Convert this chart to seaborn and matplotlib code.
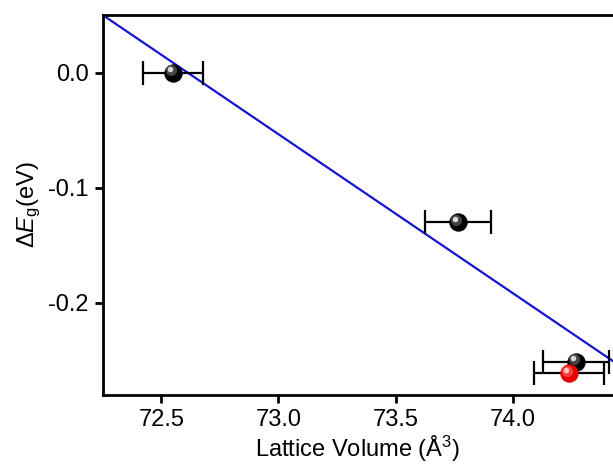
import matplotlib
matplotlib.use("Agg")
import matplotlib.pyplot as plt
import matplotlib.transforms as mtransforms
import seaborn as sns
import pandas as pd
import numpy as np

# data
volume = [72.55, 73.766, 74.27]
delta_eg = [0.0, -0.130, -0.251]
volume_err = [0.13, 0.14, 0.14]

red_volume = [74.24]
red_delta_eg = [-0.261]
red_err = [0.15]

fit_x = [72.25, 74.43]
fit_y = [0.05, -0.251]

xticks = [72.5, 73.0, 73.5, 74.0]
yticks = [0.0, -0.1, -0.2]

sns.set_style("ticks")
plt.rcParams['font.family'] = ['Liberation Sans', 'DejaVu Sans']
plt.rcParams['mathtext.fontset'] = 'custom'
plt.rcParams['mathtext.rm'] = 'Liberation Sans'
plt.rcParams['mathtext.it'] = 'Liberation Sans:italic'
plt.rcParams['axes.unicode_minus'] = False
plt.rcParams['text.color'] = 'black'
plt.rcParams['axes.labelcolor'] = 'black'

fig = plt.figure(figsize=(6.13, 4.66), dpi=100)
ax = fig.add_axes([0.1675, 0.1524, 0.8325, 0.8154])

df_fit = pd.DataFrame({"x": fit_x, "y": fit_y})
sns.lineplot(data=df_fit, x="x", y="y", ax=ax, color="#1414d2", lw=1.6, zorder=2)

# error bars
ax.errorbar(volume, delta_eg, xerr=volume_err, fmt="none", ecolor="black",
            elinewidth=1.6, capsize=8.5, capthick=1.6, zorder=3)
ax.errorbar(red_volume, red_delta_eg, xerr=red_err, fmt="none", ecolor="black",
            elinewidth=1.6, capsize=8.5, capthick=1.6, zorder=3)

df_pts = pd.DataFrame({"x": volume, "y": delta_eg})
df_red = pd.DataFrame({"x": red_volume, "y": red_delta_eg})

sns.scatterplot(data=df_pts, x="x", y="y", ax=ax, s=175, color="black",
                edgecolor="black", linewidth=0, zorder=4)
sns.scatterplot(data=df_red, x="x", y="y", ax=ax, s=175, color="#e60000",
                edgecolor="#e60000", linewidth=0, zorder=5)

# glossy highlights
hl = mtransforms.offset_copy(ax.transData, fig=fig, x=-1.8, y=1.8, units='points')
hl2 = mtransforms.offset_copy(ax.transData, fig=fig, x=-2.5, y=2.5, units='points')
ax.plot(volume, delta_eg, "o", ms=8, color="#606060", mec="none", transform=hl, zorder=4.1, alpha=0.7)
ax.plot(volume, delta_eg, "o", ms=4, color="#d8d8d8", mec="none", transform=hl2, zorder=4.2)
ax.plot(red_volume, red_delta_eg, "o", ms=8, color="#ff5050", mec="none", transform=hl, zorder=5.1, alpha=0.8)
ax.plot(red_volume, red_delta_eg, "o", ms=4, color="#ffc0c0", mec="none", transform=hl2, zorder=5.2)

ax.set_xlim(72.25, 74.427)
ax.set_ylim(-0.28, 0.05)
ax.set_xticks(xticks)
ax.set_yticks(yticks)
ax.set_xticklabels([f"{v:.1f}" for v in xticks])
ax.set_yticklabels([f"{v:.1f}" for v in yticks])

for side in ["left", "bottom", "top"]:
    ax.spines[side].set_linewidth(2)
    ax.spines[side].set_color("black")
ax.spines["right"].set_visible(False)

ax.tick_params(axis="both", direction="out", length=6, width=2, labelsize=17, pad=4, colors="black")
ax.tick_params(top=False, right=False)

ax.set_xlabel("Lattice Volume (Å$^3$)", fontsize=17, labelpad=2, color="black")
ax.set_ylabel(r"$\Delta E_{\rm g}$(eV)", fontsize=17, labelpad=4, color="black")

fig.savefig("out.png", dpi=100)
